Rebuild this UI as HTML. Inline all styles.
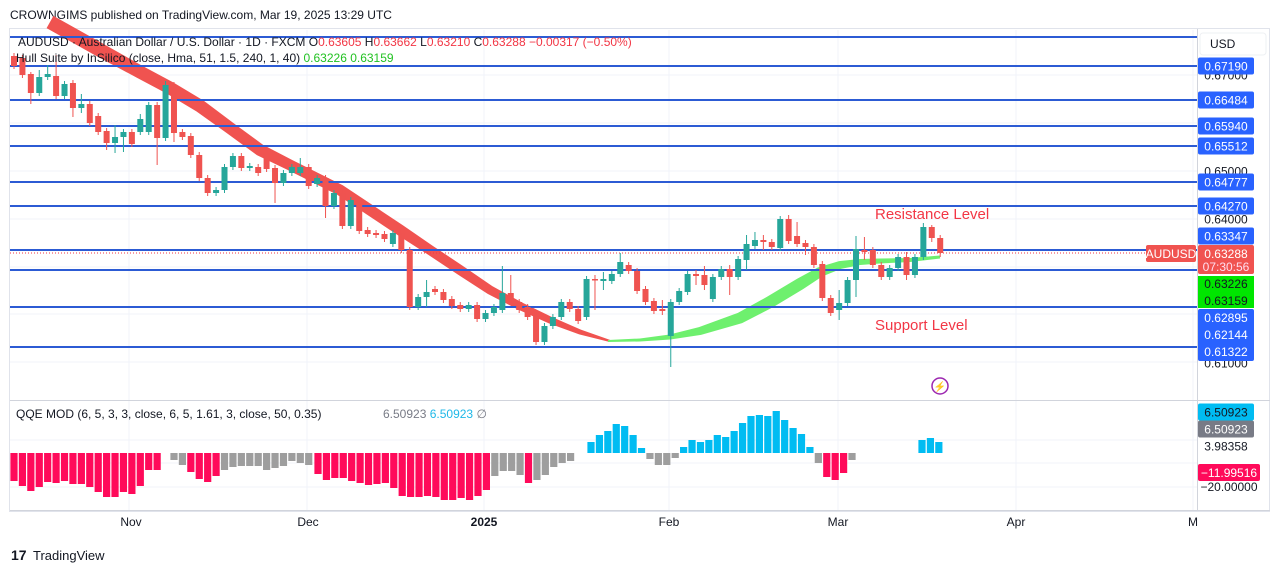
<!DOCTYPE html>
<html><head><meta charset="utf-8"><style>
body{margin:0;background:#fff;width:1281px;height:573px;overflow:hidden;font-family:"Liberation Sans",sans-serif}
svg text{font-family:"Liberation Sans",sans-serif}
</style></head><body>
<svg id="s" width="1281" height="573" xmlns="http://www.w3.org/2000/svg">
<rect width="1281" height="573" fill="#fff"/>
<text x="10" y="19" font-size="12" fill="#131722">CROWNGIMS published on TradingView.com, Mar 19, 2025 13:29 UTC</text>
<rect x="9.5" y="28.5" width="1260" height="483" fill="none" stroke="#e0e3eb"/>
<g id="grid" stroke="#f0f3fa" stroke-width="1"></g>
<g id="hull"></g>
<g id="levels" stroke="#2c5bd4" stroke-width="2"></g>
<line x1="10" y1="253" x2="1145" y2="253" stroke="#f23645" stroke-dasharray="1,2" stroke-width="1"/>
<g id="candles"></g>
<g id="hist"></g>
<line x1="1197.5" y1="29" x2="1197.5" y2="511" stroke="#d1d4dc"/>
<line x1="10" y1="400.5" x2="1270" y2="400.5" stroke="#d1d4dc"/>
<line x1="10" y1="510.5" x2="1270" y2="510.5" stroke="#d1d4dc"/>
<text x="18" y="46" font-size="12" fill="#131722">AUDUSD · Australian Dollar / U.S. Dollar · 1D · FXCM  O<tspan fill="#f23645">0.63605</tspan>  H<tspan fill="#f23645">0.63662</tspan>  L<tspan fill="#f23645">0.63210</tspan>  C<tspan fill="#f23645">0.63288  −0.00317 (−0.50%)</tspan></text>
<text x="16" y="62" font-size="12" fill="#131722">Hull Suite by InSilico (close, Hma, 51, 1.5, 240, 1, 40)  <tspan fill="#22c222">0.63226  0.63159</tspan></text>
<text x="16" y="418" font-size="12" fill="#131722">QQE MOD (6, 5, 3, 3, close, 6, 5, 1.61, 3, close, 50, 0.35)</text>
<text x="383" y="418" font-size="12" fill="#787b86">6.50923 <tspan fill="#1fb8e8">6.50923</tspan> ∅</text>
<text x="875" y="219" font-size="15" fill="#f23645">Resistance Level</text>
<text x="875" y="330" font-size="15" fill="#f23645">Support Level</text>
<circle cx="940" cy="386" r="8" fill="none" stroke="#9c27b0" stroke-width="1.5"/>
<text x="940" y="390" font-size="10" fill="#9c27b0" text-anchor="middle">⚡</text>
<rect x="1146" y="245" width="50" height="17" rx="2" fill="#f05350"/>
<text x="1171" y="258" font-size="12" fill="#fff" text-anchor="middle">AUDUSD</text>
<rect x="1200" y="33" width="66" height="22" rx="3" fill="#fff" stroke="#eef0f3"/>
<text x="1210" y="48" font-size="12" fill="#131722">USD</text>
<g id="axis" font-size="12"></g>
<g font-size="12" fill="#131722" text-anchor="middle">
<text x="131" y="526">Nov</text><text x="308" y="526">Dec</text><text x="484" y="526" font-weight="bold">2025</text>
<text x="669" y="526">Feb</text><text x="838" y="526">Mar</text><text x="1016" y="526">Apr</text><text x="1193" y="526">M</text>
</g>
<text x="11" y="560" font-size="14" font-weight="bold" fill="#131722">17</text>
<text x="33" y="560" font-size="13" fill="#131722">TradingView</text>
</svg>
<script>
const NS="http://www.w3.org/2000/svg";
function el(p,t,a,txt){const e=document.createElementNS(NS,t);for(const k in a)e.setAttribute(k,a[k]);if(txt!==undefined)e.textContent=txt;document.getElementById(p).appendChild(e);return e;}
[129,307,484,669,838,1016,1193].forEach(x=>el("grid","line",{x1:x,y1:30,x2:x,y2:510}));
[75,123,171,219,267,314,362].forEach(y=>el("grid","line",{x1:10,y1:y,x2:1197,y2:y}));
[440,463,487].forEach(y=>el("grid","line",{x1:10,y1:y,x2:1197,y2:y}));
[37,66,100,126,146,182,206,250,270,307,347].forEach(y=>el("levels","line",{x1:10,y1:y,x2:1197,y2:y}));
function band(pts,ths,col){let top=[],bot=[];for(let i=0;i<pts.length;i++){const a=pts[Math.max(0,i-1)],b=pts[Math.min(pts.length-1,i+1)];let dx=b[0]-a[0],dy=b[1]-a[1],l=Math.hypot(dx,dy);let nx=-dy/l,ny=dx/l,t=ths[i]/2;top.push([pts[i][0]+nx*t,pts[i][1]+ny*t]);bot.push([pts[i][0]-nx*t,pts[i][1]-ny*t]);}
const all=top.concat(bot.reverse());el("hull","polygon",{points:all.map(p=>p.join(",")).join(" "),fill:col});}
band([[50,22],[75,36],[100,50],[140,72],[170,88],[200,106],[230,128],[260,150],[290,165],[310,175],[340,190],[370,210],[400,230],[430,250],[460,270],[490,290],[520,306],[550,320],[580,332],[610,341]],
[14,14,14,13,13,13,12,12,11,11,11,11,11,10,10,9,8,7,5,2],"#f05350");
band([[608,341],[640,340],[670,337],[700,331],[740,318],[770,302],[800,284],[820,272],[840,265],[860,262],[880,261],[910,260],[940,257]],
[2,3,5,8,11,12,12,10,8,6,5,4,3],"#6ef06e");
const C=[[56,66,'r'],[58,75,'r'],[74,93,'r',72,104],[77,93,'g',70],[74,77,'g',65],[76,96,'r',55],[84,96,'g'],[83,108,'r',80,117],[104,108,'g',94,113],[104,123,'r'],[116,132,'r'],[131,143,'r',128,150],[137,143,'g',125,153],[132,137,'g',129,152],[132,144,'r'],[119,132,'g',114],[105,132,'g'],[105,138,'r',102,165],[85,138,'g',81],[85,133,'r',82,142],[132,137,'r'],[136,155,'r'],[155,178,'r'],[178,193,'r'],[190,193,'g'],[167,190,'g'],[156,167,'g'],[156,168,'r'],[166,168,'g'],[167,173,'r'],[153,169,'r'],[168,183,'r',165,203],[173,183,'g'],[167,173,'g'],[167,173,'g',158],[167,186,'r'],[178,184,'g'],[178,206,'r',175,218],[193,206,'g'],[193,226,'r'],[200,226,'g'],[200,231,'r'],[230,234,'r'],[233,235,'r'],[234,239,'r'],[233,244,'g'],[233,250,'r'],[250,307,'r'],[297,307,'g'],
[292,297,'g',280,307],[289,292,'r'],[292,300,'r'],[299,306,'r'],[305,309,'r'],[305,309,'g'],[305,319,'r'],[313,319,'g'],[307,313,'g'],[293,310,'g',266],[293,300,'r',275],[302,310,'r'],[307,317,'r'],[315,342,'r'],[326,342,'g'],[317,326,'g'],[302,317,'g'],[302,309,'r'],[309,321,'r'],[279,317,'g'],[279,280,'r',275,310],[279,281,'g',272,290],[274,281,'g'],[262,274,'g',253],[265,271,'r'],[271,291,'r'],[289,302,'r'],[301,311,'r'],[309,311,'r',300,315],[302,336,'g',299,367],[291,302,'g'],[274,292,'g'],[274,276,'r',270,285],[275,285,'r',266,290],[277,299,'g'],[269,277,'g'],[269,277,'r',265,295],[259,277,'g'],[244,260,'g',235,270],[240,246,'g',232],[240,242,'r',235,250],[242,247,'r'],[219,248,'g',216],[219,241,'r',215],[236,244,'r',222],[243,247,'r',240,255],[247,265,'r'],[264,298,'r'],[298,313,'r'],[303,310,'g',290,320],[280,303,'g'],[249,280,'g',236,297],[250,252,'r',237,260],[250,265,'r'],[265,277,'r'],[268,277,'g'],[257,268,'g'],[257,275,'r',252,280],[257,275,'g'],[227,257,'g',223],[227,238,'r',225,242],[238,253,'r',235,257]];
C.forEach((c,i)=>{const x=14+i*8.42;const col=c[2]=='r'?'#ef5350':'#26a69a';const hi=c[3]!==undefined?c[3]:c[0]-3,lo=c[4]!==undefined?c[4]:c[1]+3;
el("candles","line",{x1:x,y1:hi,x2:x,y2:lo,stroke:col,"stroke-width":1});el("candles","rect",{x:x-3,y:c[0],width:6,height:Math.max(1.5,c[1]-c[0]),fill:col});});
const P='#ff0a5a',G='#9e9e9e',B='#00bcf2',Z=453;
function seg(x0,hs,cols){hs.forEach((h,i)=>{const x=x0+i*8.42;const col=cols[i];el("hist","rect",{x:x-3.6,y:h>0?Z-h:Z,width:7.2,height:Math.abs(h),fill:col});});}
function rep(c,n){return Array(n).fill(c);}
let a=[-28,-33,-38,-34,-29,-30,-28,-31,-31,-34,-39,-44,-44,-39,-41,-33,-17,-17];
seg(14,a,rep(P,a.length));
let b=[-7,-12,-19,-26,-29,-23,-17,-14,-13,-13,-13,-17,-15,-13,-8,-10,-12];
seg(174,b,[G,G,P,P,P,P,G,G,G,G,G,G,G,G,G,G,G]);
let c=[-21,-27,-25,-25,-28,-30,-32,-31,-30,-35,-43,-44,-44,-43,-44,-47,-47,-45,-47,-43,-37,-23,-18,-18,-22,-30,-27,-22,-14,-10,-8];
let cc=rep(P,21).concat([G,G,G,G,P,G,G,G,G,G]);
seg(318,c,cc);
let d=[11,18,22,29,27,18,5,-6,-12,-12,-5,6,13,11,13,18,16,22,30,37,38,37,42,33,25,19,6,-10,-24,-27,-20,-7];
let dc=rep(B,7).concat(rep(G,4),rep(B,16),[G,P,P,P,G]);
seg(591,d,dc);
seg(922,[13,15,11],[B,B,B]);
function lab(y,t,bg,fg){if(bg)el("axis","rect",{x:1198,y:y-8.5,width:56,height:17,rx:2,fill:bg});el("axis","text",{x:1226,y:y+4.5,"text-anchor":"middle",fill:fg},t);}
lab(75,"0.67000",null,"#131722");lab(171,"0.65000",null,"#131722");lab(219,"0.64000",null,"#131722");lab(363,"0.61000",null,"#131722");
lab(66,"0.67190","#2962ff","#fff");lab(100,"0.66484","#2962ff","#fff");lab(126,"0.65940","#2962ff","#fff");lab(146,"0.65512","#2962ff","#fff");
lab(182,"0.64777","#2962ff","#fff");lab(206,"0.64270","#2962ff","#fff");lab(236,"0.63347","#2962ff","#fff");
el("axis","rect",{x:1198,y:245,width:56,height:29,rx:2,fill:"#f05350"});
el("axis","text",{x:1226,y:258,"text-anchor":"middle",fill:"#fff"},"0.63288");
el("axis","text",{x:1226,y:271,"text-anchor":"middle",fill:"#fde"},"07:30:56");
el("axis","rect",{x:1198,y:276,width:56,height:32,fill:"#00e600"});
el("axis","text",{x:1226,y:288,"text-anchor":"middle",fill:"#131722"},"0.63226");
el("axis","text",{x:1226,y:305,"text-anchor":"middle",fill:"#131722"},"0.63159");
el("axis","rect",{x:1198,y:309,width:56,height:52,rx:2,fill:"#2962ff"});
el("axis","text",{x:1226,y:322,"text-anchor":"middle",fill:"#fff"},"0.62895");
el("axis","text",{x:1226,y:339,"text-anchor":"middle",fill:"#fff"},"0.62144");
el("axis","text",{x:1226,y:356,"text-anchor":"middle",fill:"#fff"},"0.61322");
lab(412,"6.50923","#00bcf2","#131722");lab(429,"6.50923","#787b86","#fff");lab(446,"3.98358",null,"#131722");
el("axis","rect",{x:1198,y:464,width:62,height:17,rx:2,fill:"#ff0a5a"});
el("axis","text",{x:1229,y:477,"text-anchor":"middle",fill:"#fff"},"−11.99516");
el("axis","text",{x:1229,y:491,"text-anchor":"middle",fill:"#131722"},"−20.00000");
</script>
</body></html>
